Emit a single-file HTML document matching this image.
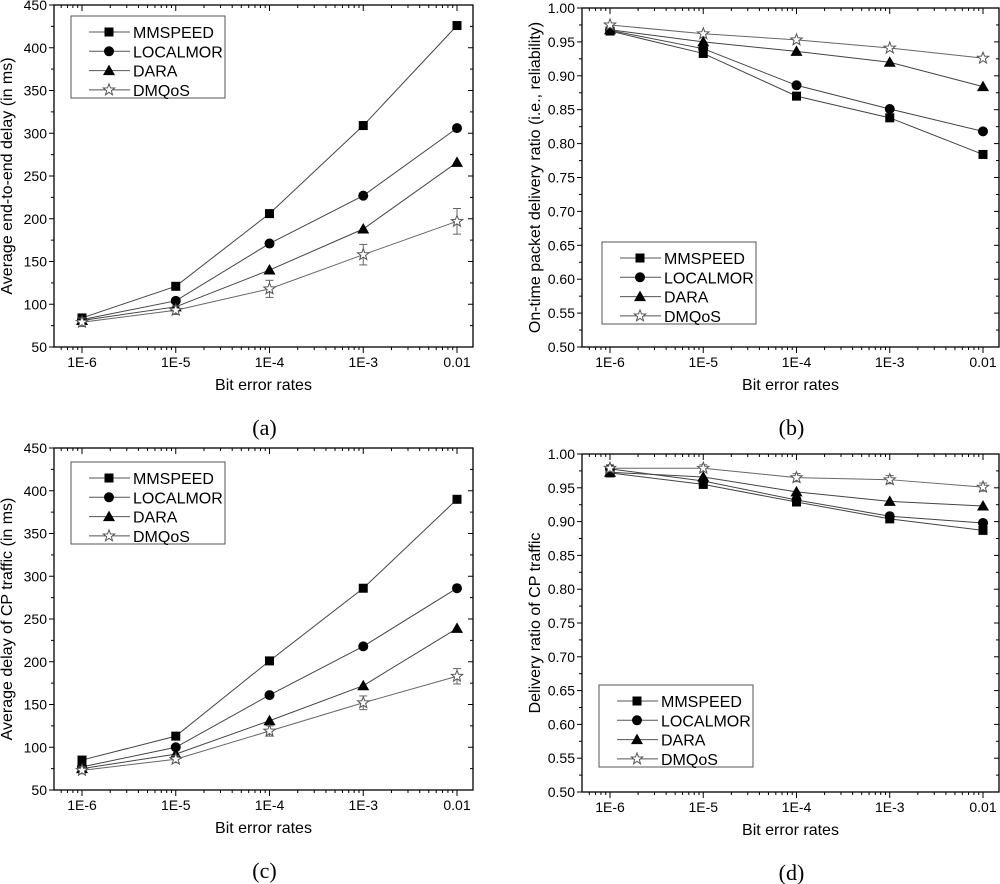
<!DOCTYPE html>
<html><head><meta charset="utf-8"><style>
body{margin:0;background:#fff;}
svg{display:block;font-family:"Liberation Sans",sans-serif;}
</style></head><body>
<svg id="fig" width="1000" height="884" viewBox="0 0 1000 884"></svg>
<script>
const categories = ["1E-6","1E-5","1E-4","1E-3","0.01"];
const seriesNames = ["MMSPEED","LOCALMOR","DARA","DMQoS"];
const aMMSPEED = [84,121,206,309,426];
const aLOCALMOR = [82,104,171,227,306];
const aDARA = [81,97,140,188,266];
const aDMQoS = [79,93,118,158,197];
const aDMQoSErr = [5,5,10,12,15];
const bMMSPEED = [0.966,0.933,0.870,0.838,0.784];
const bLOCALMOR = [0.967,0.940,0.886,0.851,0.818];
const bDARA = [0.968,0.950,0.936,0.920,0.884];
const bDMQoS = [0.975,0.962,0.953,0.941,0.926];
const cMMSPEED = [85,113,201,286,390];
const cLOCALMOR = [77,100,161,218,286];
const cDARA = [75,92,131,172,239];
const cDMQoS = [73,86,119,152,183];
const cDMQoSErr = [4,4,6,8,9];
const dMMSPEED = [0.972,0.955,0.929,0.904,0.887];
const dLOCALMOR = [0.978,0.960,0.932,0.908,0.898];
const dDARA = [0.973,0.966,0.944,0.930,0.923];
const dDMQoS = [0.979,0.979,0.965,0.962,0.951];
const dDMQoSErr = [0.005,0.005,0.006,0.006,0.006];
const delayTicks = [50,100,150,200,250,300,350,400,450];
const ratioTicks = [0.50,0.55,0.60,0.65,0.70,0.75,0.80,0.85,0.90,0.95,1.00];

const NS="http://www.w3.org/2000/svg";
const svg=document.getElementById('fig');
function el(tag,attrs,parent){const e=document.createElementNS(NS,tag);for(const k in attrs)e.setAttribute(k,attrs[k]);(parent||svg).appendChild(e);return e;}

function panel(p){
  const g=el('g',{});
  
  
  const L=p.L,R=p.R,T=p.T,B=p.B;
  const x0=p.L+28, x1=p.R-16;
  const xs=i=>x0+(x1-x0)*i/4;
  const xlog=v=>x0+(x1-x0)*(v+6)/4;
  const ys=v=>B-(B-T)*(v-p.ymin)/(p.ymax-p.ymin);
  const frame=el('rect',{x:L,y:T,width:R-L,height:B-T,fill:'none',stroke:'#000','stroke-width':1.3},g);
  
  
  for(let d=-7;d<=-2;d++){for(let m=1;m<10;m++){const v=d+Math.log10(m);const x=xlog(v);if(x<L||x>R)continue;
    const major=m===1;const len=major?6:3;
    el('line',{x1:x,y1:B,x2:x,y2:B+len,stroke:'#000','stroke-width':1},g);
    el('line',{x1:x,y1:T,x2:x,y2:T+len,stroke:'#000','stroke-width':1},g);}}
  categories.forEach((c,i)=>{const t=el('text',{x:xs(i),y:B+20,'font-size':14,'text-anchor':'middle'},g);t.textContent=c;
    
    });
  const step=p.ticks[1]-p.ticks[0];
  p.ticks.forEach((v,i)=>{const y=ys(v);
    el('line',{x1:L-5,y1:y,x2:L,y2:y,stroke:'#000'},g);
    el('line',{x1:R,y1:y,x2:R-5,y2:y,stroke:'#000'},g);
    if(i<p.ticks.length-1){const ym=ys(v+step/2);el('line',{x1:L-3,y1:ym,x2:L,y2:ym,stroke:'#000'},g);el('line',{x1:R,y1:ym,x2:R-3,y2:ym,stroke:'#000'},g);}
    const t=el('text',{x:L-7,y:y+5,'font-size':14,'text-anchor':'end'},g);t.textContent=p.fmt(v);
    
    });
  const xt=el('text',{x:(L+R)/2,y:B+43,'font-size':16,'text-anchor':'middle'},g);xt.textContent='Bit error rates';
  
  
  const yt=el('text',{x:0,y:0,'font-size':16,'text-anchor':'middle',transform:`translate(${L-42},${(T+B)/2}) rotate(-90)`},g);yt.textContent=p.ytitle;
  
  
  const cap=el('text',{x:(L+R)/2+1,y:B+88,'font-size':22,'font-family':'Liberation Serif, serif','text-anchor':'middle'},g);cap.textContent='('+p.id+')';
  
  
  const shapes=['square','circle','triangle','star'];
  p.series.forEach((s,k)=>{
    const pts=s.map((v,i)=>xs(i)+','+ys(v)).join(' ');
    const line=el('polyline',{points:pts,fill:'none',stroke:k===3?'#666':'#444','stroke-width':1},g);
    
    
    if(k===3&&p.err){s.forEach((v,i)=>{const x=xs(i),ya=ys(v+p.err[i]),yb=ys(v-p.err[i]);
      el('line',{x1:x,y1:ya,x2:x,y2:yb,stroke:'#666'},g);el('line',{x1:x-4,y1:ya,x2:x+4,y2:ya,stroke:'#666'},g);el('line',{x1:x-4,y1:yb,x2:x+4,y2:yb,stroke:'#666'},g);});}
    s.forEach((v,i)=>{const m=marker(shapes[k],xs(i),ys(v),g);
      
      });
  });
  const lg=el('g',{},g);
  
  
  el('rect',{x:p.lx,y:p.ly,width:154,height:82,fill:'#fff',stroke:'#555','stroke-width':1},lg);
  seriesNames.forEach((n,k)=>{const y=p.ly+16+k*19.3;
    el('line',{x1:p.lx+18,y1:y,x2:p.lx+59,y2:y,stroke:'#555'},lg);
    marker(shapes[k],p.lx+38,y,lg);
    const t=el('text',{x:p.lx+62,y:y+6,'font-size':16},lg);t.textContent=n;
    
    });
}
function marker(sh,x,y,g){
  if(sh==='square')return el('rect',{x:x-4.5,y:y-4.5,width:9,height:9,fill:'#000'},g);
  if(sh==='circle')return el('circle',{cx:x,cy:y,r:5,fill:'#000'},g);
  if(sh==='triangle')return el('polygon',{points:`${x},${y-6} ${x+6},${y+4.5} ${x-6},${y+4.5}`,fill:'#000'},g);
  let pts=[];for(let i=0;i<10;i++){const r=i%2?2.5:6;const a=-Math.PI/2+i*Math.PI/5;pts.push((x+r*Math.cos(a)).toFixed(1)+','+(y+r*Math.sin(a)).toFixed(1));}
  return el('polygon',{points:pts.join(' '),fill:'#fff',stroke:'#555','stroke-width':1},g);
}
const f0=v=>String(v), f2=v=>v.toFixed(2);
panel({id:'a',L:54,R:473,T:5,B:347,ymin:50,ymax:450,ticks:delayTicks,fmt:f0,ytitle:'Average end-to-end delay (in ms)',series:[aMMSPEED,aLOCALMOR,aDARA,aDMQoS],err:aDMQoSErr,lx:71,ly:16});
panel({id:'b',L:582,R:999,T:8,B:347,ymin:0.5,ymax:1.0,ticks:ratioTicks,fmt:f2,ytitle:'On-time packet delivery ratio (i.e., reliability)',series:[bMMSPEED,bLOCALMOR,bDARA,bDMQoS],err:null,lx:602,ly:242});
panel({id:'c',L:54,R:473,T:448,B:790,ymin:50,ymax:450,ticks:delayTicks,fmt:f0,ytitle:'Average delay of CP traffic (in ms)',series:[cMMSPEED,cLOCALMOR,cDARA,cDMQoS],err:cDMQoSErr,lx:71,ly:462});
panel({id:'d',L:582,R:999,T:454,B:792,ymin:0.5,ymax:1.0,ticks:ratioTicks,fmt:f2,ytitle:'Delivery ratio of CP traffic',series:[dMMSPEED,dLOCALMOR,dDARA,dDMQoS],err:dDMQoSErr,lx:599,ly:685});
</script>
</body></html>
